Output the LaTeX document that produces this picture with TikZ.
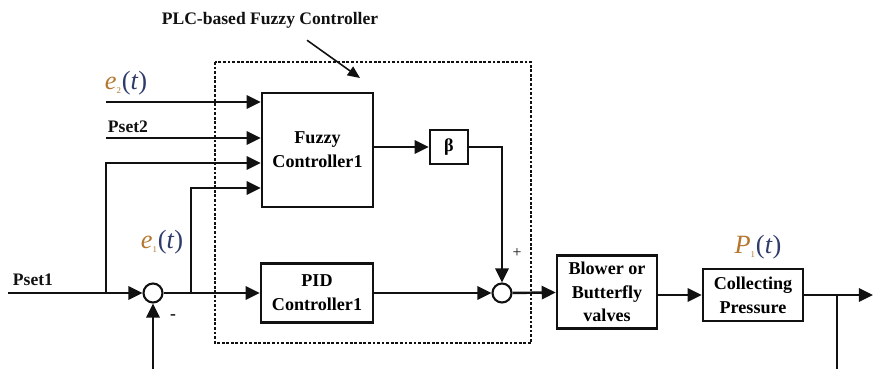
\documentclass[tikz,border=0pt]{standalone}
\usepackage{fontspec}
\setmainfont{Liberation Serif}
\usetikzlibrary{arrows.meta,positioning}
\definecolor{ink}{HTML}{111111}
\definecolor{sigorange}{HTML}{B5762E}
\definecolor{signavy}{HTML}{2E3B6B}
\newcommand{\sigof}[2]{\textcolor{sigorange}{\textit{#1}}\textsubscript{\textcolor{sigorange}{\tiny #2}}\textcolor{signavy}{(\textit{t})}}
\tikzset{
  blockbox/.style={draw=ink,line width=1.4pt,align=center,inner sep=1pt,
    font=\fontsize{10.3}{13.5}\selectfont\bfseries},
  sumnode/.style={circle,draw=ink,line width=1.2pt,minimum size=0.38cm,inner sep=0pt},
  flow/.style={draw=ink,line width=1.4pt,-{Triangle[length=8pt,width=7.5pt]}},
  wire/.style={draw=ink,line width=1.4pt},
  sig/.style={font=\fontsize{15}{17}\selectfont},
  lbl/.style={font=\fontsize{10}{11}\selectfont\bfseries,text=ink}
}
\begin{document}
\begin{tikzpicture}[x=0.02cm,y=-0.02cm]
\useasboundingbox (0,0) rectangle (873,369);
% PLC frame
\draw[ink,line width=1pt,dash pattern=on 1.6pt off 1pt] (215,62) rectangle (531,343);
\node[lbl] (title) at (270,20) {PLC-based Fuzzy Controller};
\coordinate (frametip) at (360,78);
\draw[ink,line width=0.9pt,-{Triangle[length=7pt,width=6pt]}]
  ([xshift=0.74cm,yshift=-0.12cm]title.south) -- (frametip);

% blocks
\node[blockbox,minimum width=2.22cm,minimum height=2.28cm] (fuzzy) at (317.5,150) {Fuzzy\\Controller1};
\node[blockbox,minimum width=0.76cm,minimum height=0.68cm] (beta) at (449,147) {β};
\node[blockbox,minimum width=2.24cm,minimum height=1.18cm] (pid) at (317,293) {PID\\Controller1};
\node[sumnode] (sumA) at (153,293) {};
\node[sumnode] (sumB) at (502,293) {};
\node[blockbox,minimum width=2.0cm,minimum height=1.46cm] (valve) at (607,292) {Blower or\\Butterfly\\valves};
\node[blockbox,minimum width=2.0cm,minimum height=1.04cm] (press) at (753,295) {Collecting\\Pressure};

% free ends and branch points
\coordinate (start) at (8,293);
\coordinate (brA) at (106,293);
\coordinate (brB) at (191,293);
\coordinate (fbA) at (153,369);
\coordinate (inE) at (106,102);
\coordinate (inP) at (106,138);
\coordinate (out) at (873,295);
\coordinate (brC) at (837,295);
\coordinate (fbB) at (837,369);

% labels
\node[sig] (eTwo) at (126,83) {\sigof{e}{2}};
\node[lbl] (psetTwo) at (128,127) {Pset2};
\node[lbl] (psetOne) at (33,280) {Pset1};
\node[sig] (eOne) at (162,242) {\sigof{e}{1}};
\node[sig] (pOne) at (758,247) {\sigof{P}{1}};
\node[font=\fontsize{9}{9}\selectfont,text=ink] (plus) at (517,253) {+};
\node[font=\fontsize{10}{10}\selectfont\bfseries,text=ink] (minus) at (173,317) {-};

% connectors
\draw[flow] (inE) -- (inE -| fuzzy.west);
\draw[flow] (inP) -- (inP -| fuzzy.west);
\draw[flow] (brA) |- ([yshift=-0.26cm]fuzzy.west);
\draw[flow] (brB) |- ([yshift=-0.76cm]fuzzy.west);
\draw[flow] (start) -- (sumA);
\draw[flow] (fbA) -- (sumA);
\draw[flow] (sumA) -- (pid);
\draw[flow] (fuzzy.east |- beta) -- (beta);
\draw[flow] (beta) -| (sumB);
\draw[flow] (pid) -- (sumB);
\draw[flow] (sumB) -- (valve);
\draw[flow] (valve.east |- press) -- (press);
\draw[flow] (press) -- (out);
\draw[wire] (brC) -- (fbB);
\end{tikzpicture}
\end{document}
